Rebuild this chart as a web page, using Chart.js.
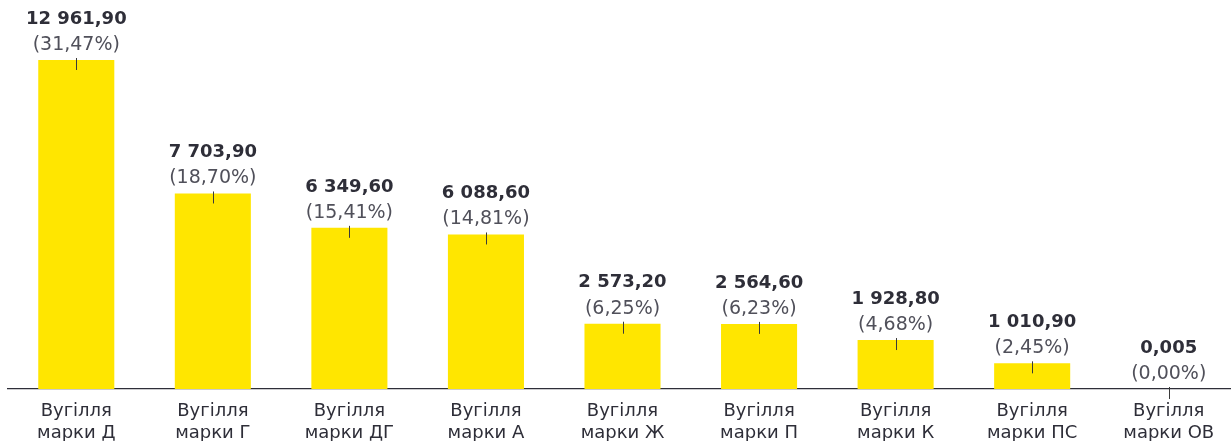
<!DOCTYPE html>
<html>
<head>
<meta charset="utf-8">
<script src="https://cdn.jsdelivr.net/npm/chart.js@4/dist/chart.umd.min.js"></script>
<style>
html,body{margin:0;padding:0;background:#fff;overflow:hidden;}
#wrap{width:1237px;height:441px;position:relative;}
</style>
</head>
<body>
<div id="wrap"><canvas id="c"></canvas></div>
<script>
const categories = [
  ["Вугілля","марки Д"],["Вугілля","марки Г"],["Вугілля","марки ДГ"],
  ["Вугілля","марки А"],["Вугілля","марки Ж"],["Вугілля","марки П"],
  ["Вугілля","марки К"],["Вугілля","марки ПС"],["Вугілля","марки ОВ"]
];
const values = [12961.90, 7703.90, 6349.60, 6088.60, 2573.20, 2564.60, 1928.80, 1010.90, 0.005];
const valueLabels = ["12 961,90","7 703,90","6 349,60","6 088,60","2 573,20","2 564,60","1 928,80","1 010,90","0,005"];
const shareLabels = ["(31,47%)","(18,70%)","(15,41%)","(14,81%)","(6,25%)","(6,23%)","(4,68%)","(2,45%)","(0,00%)"];

const FONT = "'DejaVu Sans', Verdana, sans-serif";

const labelPlugin = {
  id: 'barLabels',
  afterDatasetsDraw(chart) {
    const ctx = chart.ctx;
    const meta = chart.getDatasetMeta(0);
    ctx.save();
    meta.data.forEach((bar, i) => {
      const x = bar.x, y = bar.y;
      ctx.strokeStyle = '#3a3a3a';
      ctx.lineWidth = 1;
      ctx.beginPath();
      ctx.moveTo(Math.round(x) + 0.5, y - 2);
      ctx.lineTo(Math.round(x) + 0.5, y + 10);
      ctx.stroke();
      ctx.textAlign = 'center';
      ctx.textBaseline = 'middle';
      ctx.fillStyle = '#2e2e38';
      ctx.font = "bold 18px " + FONT;
      ctx.fillText(valueLabels[i], x, y - 41);
      ctx.fillStyle = '#50505a';
      ctx.font = "19px " + FONT;
      ctx.fillText(shareLabels[i], x, y - 15);
    });
    ctx.restore();
  }
};

new Chart(document.getElementById('c'), {
  type: 'bar',
  data: {
    labels: categories,
    datasets: [{
      data: values,
      backgroundColor: '#FFE600',
      borderWidth: 0,
      barPercentage: 0.557,
      categoryPercentage: 1
    }]
  },
  options: {
    responsive: true,
    maintainAspectRatio: false,
    animation: false,
    layout: { padding: { left: 8, right: 0, top: 0, bottom: 0 } },
    plugins: { legend: { display: false }, tooltip: { enabled: false } },
    scales: {
      x: {
        offset: true,
        grid: { display: false, drawTicks: false },
        border: { display: true, color: '#2e2e38', width: 1.2 },
        afterFit(scale) { scale.height = 52; },
        ticks: {
          color: '#2e2e38',
          padding: 12,
          maxRotation: 0,
          autoSkip: false,
          font: { family: FONT, size: 18, lineHeight: 1.2 }
        }
      },
      y: {
        display: false,
        min: 0,
        max: 15326
      }
    }
  },
  plugins: [labelPlugin]
});
</script>
</body>
</html>
